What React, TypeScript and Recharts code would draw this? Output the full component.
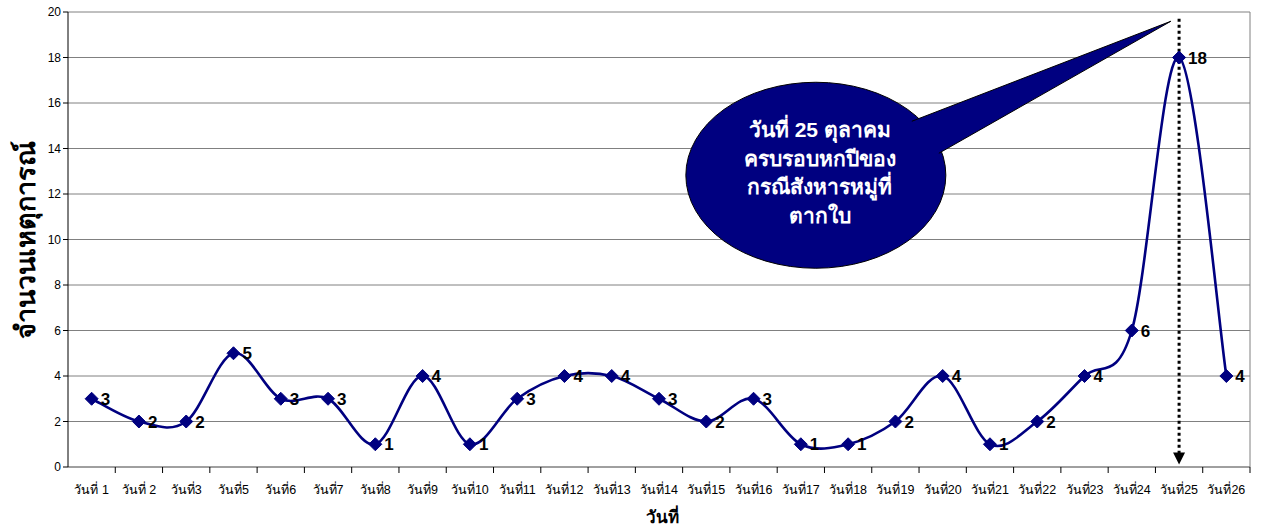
import React from 'react';
import {
  LineChart,
  Line,
  XAxis,
  YAxis,
  CartesianGrid,
  LabelList,
  ReferenceLine,
  ReferenceDot,
} from 'recharts';

const days = [
  'วันที่ 1', 'วันที่ 2', 'วันที่3', 'วันที่5', 'วันที่6', 'วันที่7', 'วันที่8', 'วันที่9',
  'วันที่10', 'วันที่11', 'วันที่12', 'วันที่13', 'วันที่14', 'วันที่15', 'วันที่16',
  'วันที่17', 'วันที่18', 'วันที่19', 'วันที่20', 'วันที่21', 'วันที่22', 'วันที่23',
  'วันที่24', 'วันที่25', 'วันที่26',
];
const incidents = [3, 2, 2, 5, 3, 3, 1, 4, 1, 3, 4, 4, 3, 2, 3, 1, 1, 2, 4, 1, 2, 4, 6, 18, 4];
const yTicks = [0, 2, 4, 6, 8, 10, 12, 14, 16, 18, 20];
const calloutLines = ['วันที่ 25 ตุลาคม', 'ครบรอบหกปีของ', 'กรณีสังหารหมู่ที่', 'ตากใบ'];

const data = days.map((name, i) => ({ name, value: incidents[i] }));

const FONT = 'Arial, "Liberation Sans", sans-serif';
const NAVY = '#000080';
const PLOT_W = 1182;
const BAND = PLOT_W / days.length;

// Excel-like smoothed line (catmull-rom through every point)
const excelCurve = (context: any) => {
  let pts: number[][] = [];
  return {
    areaStart() {},
    areaEnd() {},
    lineStart() {
      pts = [];
    },
    point(x: number, y: number) {
      pts.push([+x, +y]);
    },
    lineEnd() {
      const n = pts.length;
      if (!n) return;
      context.moveTo(pts[0][0], pts[0][1]);
      for (let i = 0; i < n - 1; i++) {
        const p0 = pts[Math.max(i - 1, 0)];
        const p1 = pts[i];
        const p2 = pts[i + 1];
        const p3 = pts[Math.min(i + 2, n - 1)];
        context.bezierCurveTo(
          p1[0] + (p2[0] - p0[0]) / 6,
          p1[1] + (p2[1] - p0[1]) / 6,
          p2[0] - (p3[0] - p1[0]) / 6,
          p2[1] - (p3[1] - p1[1]) / 6,
          p2[0],
          p2[1]
        );
      }
    },
  };
};

const Diamond = (props: any) => {
  const { cx, cy } = props;
  if (cx == null || cy == null) return null;
  const r = 6.5;
  return (
    <path
      d={`M${cx},${cy - r}L${cx + r},${cy}L${cx},${cy + r}L${cx - r},${cy}Z`}
      fill={NAVY}
      stroke={NAVY}
    />
  );
};

const ValueLabel = (props: any) => {
  const { x, y, value } = props;
  return (
    <text x={x + 9} y={y + 6} fontFamily={FONT} fontSize={17} fontWeight="bold" fill="#000">
      {value}
    </text>
  );
};

const XTick = (props: any) => {
  const { x, y, payload, index } = props;
  const top = y - 8;
  const left = x - BAND / 2;
  return (
    <g>
      {index > 0 && <line x1={left} y1={top} x2={left} y2={top + 6} stroke="#000" />}
      {index === days.length - 1 && (
        <line x1={x + BAND / 2} y1={top} x2={x + BAND / 2} y2={top + 6} stroke="#000" />
      )}
      <text x={x} y={top + 27} textAnchor="middle" fontFamily={FONT} fontSize={12.5} fill="#000">
        {payload.value}
      </text>
    </g>
  );
};

const DottedArrow = (props: any) => {
  const { x1, y1, x2, y2 } = props;
  if (x1 == null) return null;
  return (
    <g>
      <line x1={x1} y1={y1} x2={x2} y2={y2 - 8} stroke="#000" strokeWidth={3} strokeDasharray="3 3" />
      <path d={`M${x2 - 6},${y2 - 10}L${x2 + 6},${y2 - 10}L${x2},${y2 + 2}Z`} fill="#000" />
    </g>
  );
};

const Callout = (props: any) => {
  const { cx, cy } = props;
  if (cx == null || cy == null) return null;
  const ex = cx + 15;
  const ey = cy + 4;
  const tip = [ex + 355, ey - 154];
  const b1 = [ex + 96, ey - 54];
  const b2 = [ex + 123, ey - 22];
  return (
    <g>
      <ellipse cx={ex} cy={ey} rx={130} ry={93} fill={NAVY} stroke="#000" strokeWidth={1} />
      <path d={`M${b1[0]},${b1[1]}L${tip[0]},${tip[1]}L${b2[0]},${b2[1]}Z`} fill={NAVY} />
      <path d={`M${b1[0]},${b1[1]}L${tip[0]},${tip[1]}L${b2[0]},${b2[1]}`} fill="none" stroke="#000" strokeWidth={1} />
      {calloutLines.map((t, i) => (
        <text
          key={t}
          x={ex + 4}
          y={ey - 38 + i * 28.5}
          textAnchor="middle"
          fontFamily={FONT}
          fontSize={21}
          fontWeight="bold"
          fill="#fff"
        >
          {t}
        </text>
      ))}
    </g>
  );
};

export default function App() {
  return (
    <div style={{ position: 'absolute', left: 0, top: 0, width: 1263, height: 529, background: '#fff' }}>
      <LineChart width={1263} height={529} data={data} margin={{ top: 12, right: 13, bottom: 0, left: 28 }}>
        <CartesianGrid horizontal vertical={false} stroke="#808080" />
        <XAxis
          dataKey="name"
          axisLine={{ stroke: '#808080' }}
          tickLine={false}
          tick={<XTick />}
          interval={0}
          height={62}
          padding={{ left: BAND / 2, right: BAND / 2 }}
        />
        <YAxis
          domain={[0, 20]}
          ticks={yTicks}
          width={40}
          axisLine={{ stroke: '#000' }}
          tickLine={{ stroke: '#000' }}
          tickSize={5}
          tick={{ fontFamily: FONT, fontSize: 12, fill: '#000' }}
        />
        <ReferenceLine
          segment={[
            { x: 'วันที่25', y: 19.7 },
            { x: 'วันที่25', y: 0.2 },
          ]}
          shape={<DottedArrow />}
        />
        <ReferenceDot x="วันที่17" y={13} r={0} shape={<Callout />} />
        <Line
          type={excelCurve as any}
          dataKey="value"
          stroke={NAVY}
          strokeWidth={2.6}
          dot={<Diamond />}
          activeDot={false}
          isAnimationActive={false}
        >
          <LabelList dataKey="value" content={<ValueLabel />} />
        </Line>
        <line x1={1250} y1={12} x2={1250} y2={467} stroke="#808080" />
      </LineChart>
      <div
        style={{
          position: 'absolute',
          left: 25,
          top: 240,
          transform: 'translate(-50%, -50%) rotate(-90deg)',
          fontFamily: FONT,
          fontSize: 27,
          fontWeight: 'bold',
          whiteSpace: 'nowrap',
        }}
      >
        จำนวนเหตุการณ์
      </div>
      <div
        style={{
          position: 'absolute',
          left: 662,
          top: 516,
          transform: 'translate(-50%, -50%)',
          fontFamily: FONT,
          fontSize: 17,
          fontWeight: 'bold',
          whiteSpace: 'nowrap',
        }}
      >
        วันที่
      </div>
    </div>
  );
}
